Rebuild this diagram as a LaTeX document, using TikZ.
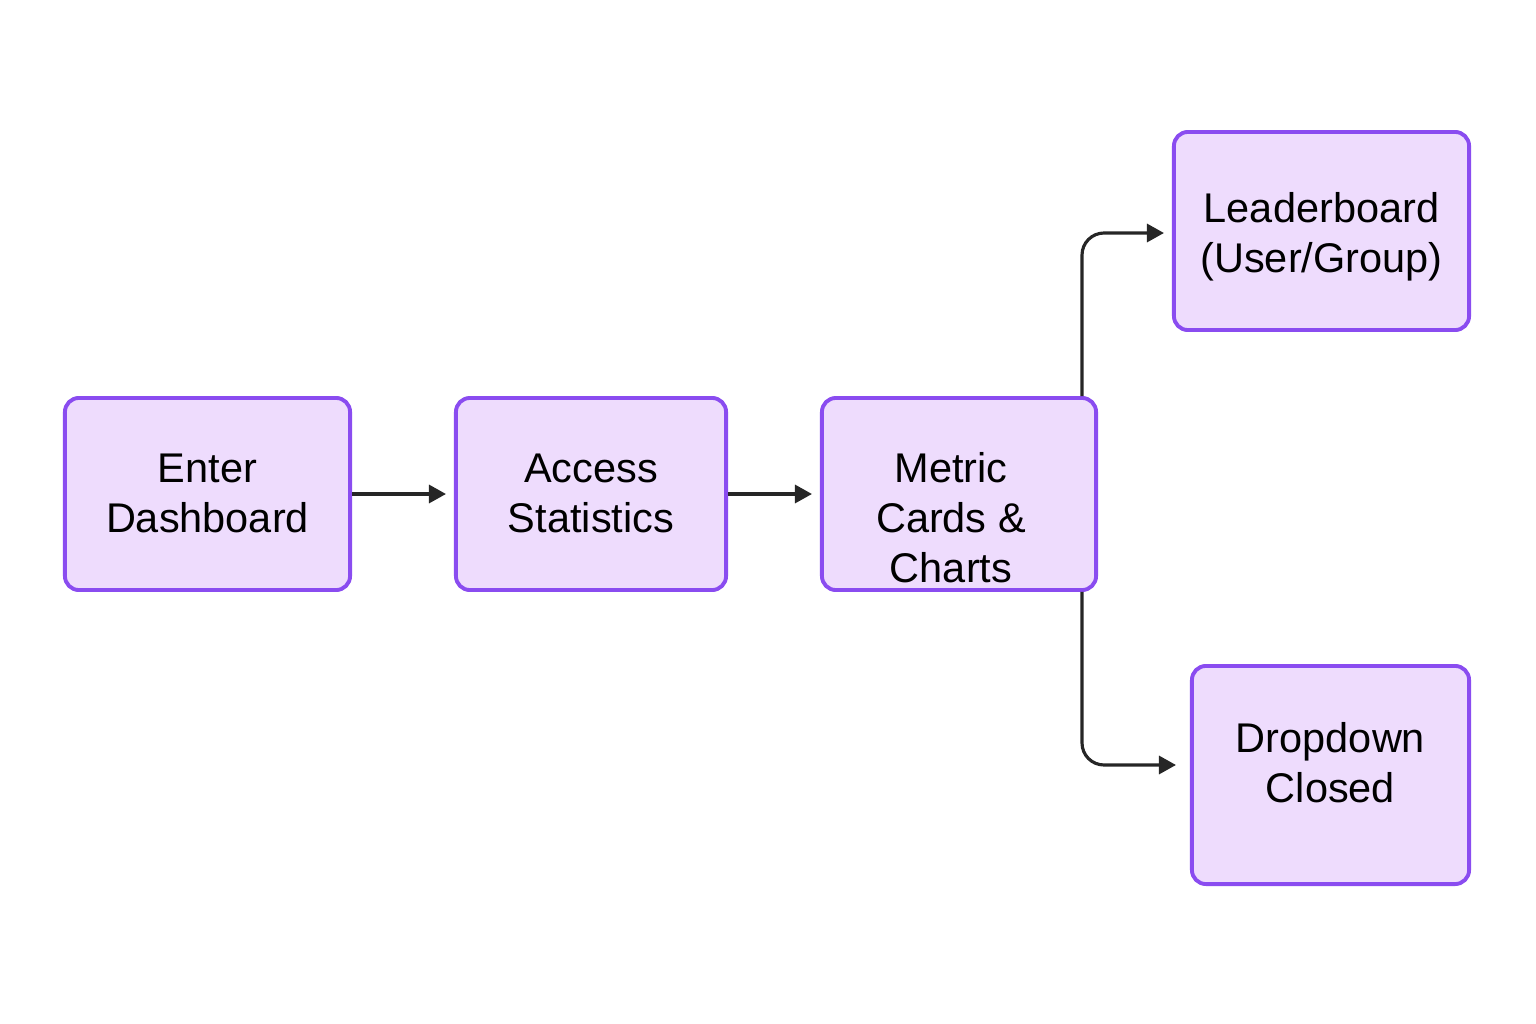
\documentclass[tikz,border=0pt]{standalone}
\usepackage{fontspec}
\setmainfont{Liberation Sans}
\usetikzlibrary{arrows.meta}

\definecolor{boxfill}{HTML}{EEDCFD}
\definecolor{boxline}{HTML}{8A4CF0}
\definecolor{arrowcol}{HTML}{262626}

\begin{document}
\begin{tikzpicture}[x=0.01cm, y=0.01cm,
    stepbox/.style={draw=boxline, fill=boxfill, line width=1.1pt, rounded corners=0.14cm, inner sep=0pt},
    steptext/.style={inner sep=0pt, align=center, font=\fontsize{11.8pt}{14.2pt}\selectfont},
    flow/.style={draw=arrowcol, line width=0.9pt, -{Triangle[length=1.7mm,width=1.8mm]}, shorten >=0.08cm}]
    \useasboundingbox (0,0) rectangle (1536,-1024);
    \node [stepbox, minimum width=2.85cm, minimum height=1.92cm] (enter) at (207.5,-494) {};
    \node [steptext] (enter-text) at ([yshift=0.01cm]enter.center) {Enter\\Dashboard};
    \node [stepbox, minimum width=2.70cm, minimum height=1.92cm] (access) at (591,-494) {};
    \node [steptext] (access-text) at ([yshift=0.01cm]access.center) {Access\\Statistics};
    \node [stepbox, minimum width=2.74cm, minimum height=1.92cm] (metric) at (959,-494) {};
    \node [steptext] (metric-text) at ([xshift=-0.08cm,yshift=-0.24cm]metric.center) {Metric\\Cards \&\\Charts};
    \node [stepbox, minimum width=2.95cm, minimum height=1.98cm] (leader) at (1321.5,-231) {};
    \node [steptext] (leader-text) at ([yshift=-0.06cm]leader.center) {Leaderboard\\(User/Group)};
    \node [stepbox, minimum width=2.77cm, minimum height=2.18cm] (drop) at (1330.5,-775) {};
    \node [steptext] (drop-text) at ([yshift=0.12cm]drop.center) {Dropdown\\Closed};
    \draw [flow] (enter.east) -- (access.west);
    \draw [flow] (access.east) -- (metric.west);
    \draw [flow, rounded corners=0.22cm] ([xshift=-0.16cm]metric.north east) |- ([yshift=-0.02cm]leader.west);
    \draw [flow, rounded corners=0.22cm, shorten >=0.14cm] ([xshift=-0.16cm]metric.south east) |- ([yshift=0.10cm]drop.west);
\end{tikzpicture}
\end{document}
